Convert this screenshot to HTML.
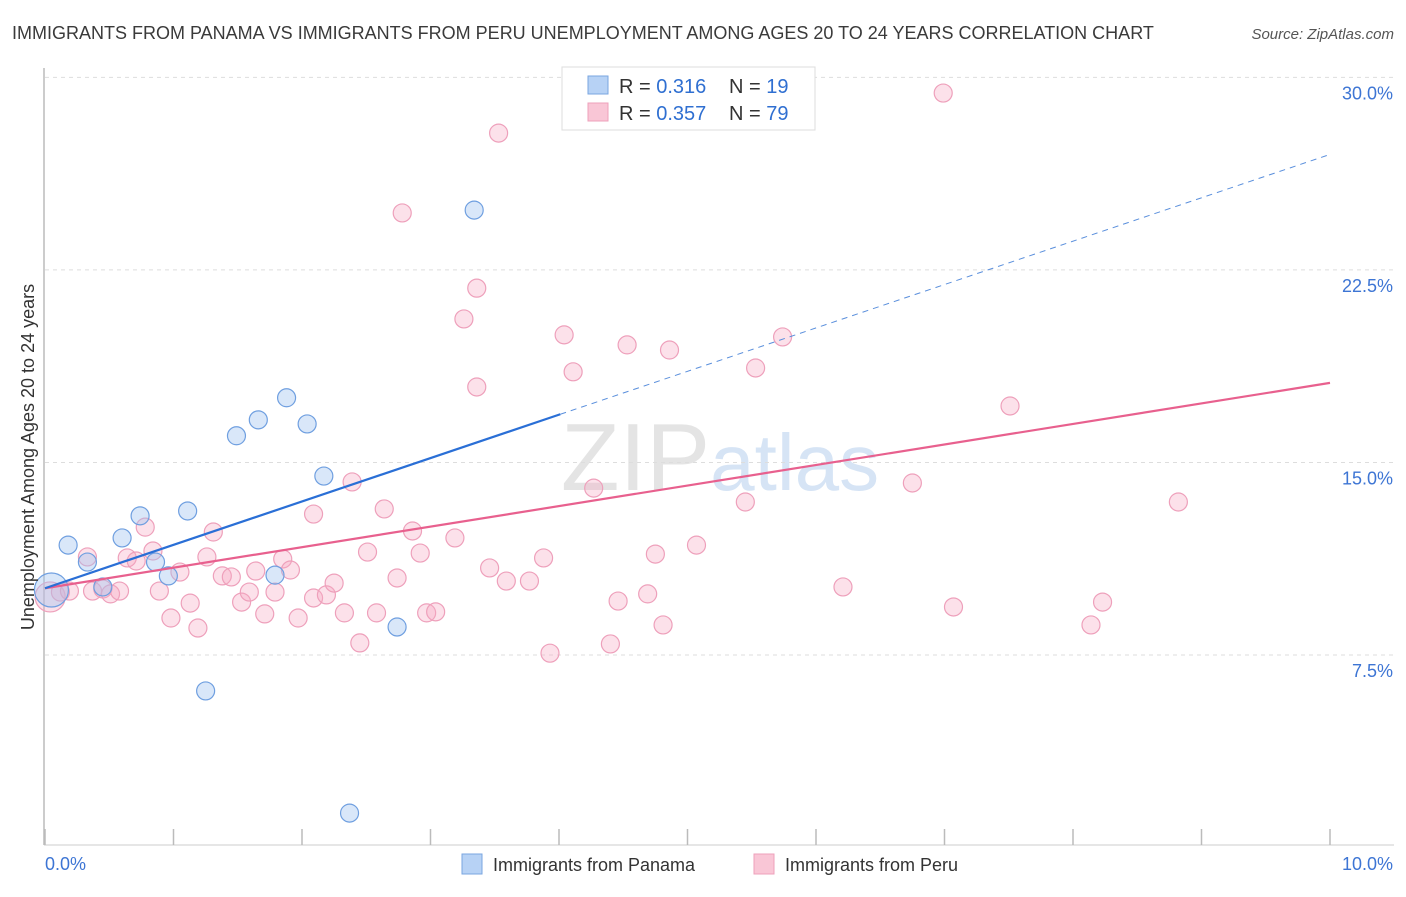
<!DOCTYPE html>
<html><head><meta charset="utf-8"><style>
body{margin:0;background:#fff;font-family:"Liberation Sans",sans-serif;}
svg text{font-family:"Liberation Sans",sans-serif;}
</style></head><body>
<svg id="chart" width="1406" height="892" xmlns="http://www.w3.org/2000/svg">
<text x="12" y="39" font-size="18" fill="#3a3a3a">IMMIGRANTS FROM PANAMA VS IMMIGRANTS FROM PERU UNEMPLOYMENT AMONG AGES 20 TO 24 YEARS CORRELATION CHART</text>
<text x="1394" y="39" font-size="15" fill="#555" text-anchor="end" font-style="italic">Source: ZipAtlas.com</text>
<text x="720" y="490" font-size="96" fill="#e4e4e4" text-anchor="middle" font-family="Liberation Serif">ZIP<tspan fill="#d6e4f5" font-family="Liberation Sans" font-size="80">atlas</tspan></text>
<g id="grid"></g>
<g id="axes"></g>
<g id="marks"></g>
<text transform="translate(34,457) rotate(-90)" font-size="18" fill="#333" text-anchor="middle">Unemployment Among Ages 20 to 24 years</text>
<g>
<rect x="562" y="67" width="253" height="63" fill="#fff" stroke="#ddd"/>
<rect x="588" y="76" width="20" height="18" fill="#b7d2f5" stroke="#7aa6e0"/>
<rect x="588" y="103" width="20" height="18" fill="#f9c6d6" stroke="#eea0bb"/>
<text x="619" y="93" font-size="20" fill="#333">R = <tspan fill="#2f6fd1">0.316</tspan></text>
<text x="729" y="93" font-size="20" fill="#333">N = <tspan fill="#2f6fd1"> 19</tspan></text>
<text x="619" y="120" font-size="20" fill="#333">R = <tspan fill="#2f6fd1">0.357</tspan></text>
<text x="729" y="120" font-size="20" fill="#333">N = <tspan fill="#2f6fd1">79</tspan></text>
</g>
<g>
<rect x="462" y="854" width="20" height="20" fill="#b7d2f5" stroke="#7aa6e0"/>
<text x="493" y="871" font-size="18" fill="#333">Immigrants from Panama</text>
<rect x="754" y="854" width="20" height="20" fill="#f9c6d6" stroke="#eea0bb"/>
<text x="785" y="871" font-size="18" fill="#333">Immigrants from Peru</text>
</g>
</svg>
<script>
const yTicks=[7.5,15,22.5,30];
const yTickLabels=["7.5%","15.0%","22.5%","30.0%"];
const xTicks=[0,1,2,3,4,5,6,7,8,9,10];
const xEndLabels=["0.0%","10.0%"];
const panamaX=[0.05,0.18,0.33,0.45,0.60,0.74,0.86,0.96,1.11,1.25,1.49,1.66,1.88,2.04,2.17,1.79,2.74,3.34,2.37];
const panamaY=[10.03,11.78,11.12,10.15,12.06,12.92,11.12,10.58,13.11,6.10,16.04,16.66,17.52,16.50,14.47,10.61,8.59,24.83,1.34];
const peruX=[0.04,0.12,0.19,0.33,0.37,0.45,0.51,0.58,0.64,0.71,0.78,0.84,0.89,0.98,1.05,1.13,1.19,1.26,1.31,1.38,1.45,1.53,1.59,1.64,1.71,1.79,1.85,1.91,1.97,2.09,2.09,2.19,2.25,2.33,2.39,2.45,2.51,2.58,2.64,2.74,2.78,2.86,2.92,2.97,3.04,3.19,3.26,3.36,3.36,3.46,3.53,3.59,3.77,3.88,3.93,4.04,4.11,4.27,4.40,4.46,4.53,4.69,4.75,4.81,4.86,5.07,5.45,5.53,5.74,5.89,6.21,6.75,6.99,7.07,7.51,8.14,8.23,8.82];
const peruY=[9.76,9.95,9.99,11.32,9.99,10.07,9.88,9.99,11.28,11.16,12.48,11.55,9.99,8.94,10.73,9.52,8.55,11.32,12.29,10.58,10.54,9.56,9.95,10.77,9.10,9.95,11.24,10.81,8.94,12.99,9.72,9.84,10.30,9.14,14.24,7.97,11.51,9.14,13.19,10.50,24.72,12.33,11.47,9.14,9.18,12.06,20.59,17.94,21.79,10.89,27.83,10.38,10.38,11.28,7.57,19.97,18.53,14.00,7.93,9.60,19.58,9.88,11.43,8.67,19.38,11.78,13.46,18.68,19.89,28.37,10.15,14.20,29.39,9.37,17.20,8.67,9.56,13.46];
const panamaBig=[0];
const peruBig=[0];
const panamaTrend=[10.1,1.69];
const peruTrend=[10.1,0.80];
const panamaSolidEnd=4.01;

const X0=45,X1=1330,XMAX=10;
const sx=v=>X0+(X1-X0)*v/XMAX;
const sy=v=>847.5-v*25.67;
const NS="http://www.w3.org/2000/svg";
function mk(tag,attrs,parent){const e=document.createElementNS(NS,tag);for(const k in attrs)e.setAttribute(k,attrs[k]);parent.appendChild(e);return e;}
const grid=document.getElementById('grid'),axes=document.getElementById('axes'),marks=document.getElementById('marks');
yTicks.forEach((t,i)=>{
 const l=mk('line',{x1:45,x2:1394,y1:sy(t),y2:sy(t),stroke:'#ddd','stroke-dasharray':'4,4'},grid);
 
 
 const tx=mk('text',{x:1393,y:sy(t)+22,'font-size':18,fill:'#3d75d4','text-anchor':'end'},axes);
 tx.textContent=yTickLabels[i];
 
 
});
const ax=mk('line',{x1:44,x2:44,y1:68,y2:845,stroke:'#bbb','stroke-width':1.5},axes);


const bx=mk('line',{x1:44,x2:1394,y1:845,y2:845,stroke:'#ccc'},axes);


xTicks.forEach(t=>{
 const l=mk('line',{x1:sx(t),x2:sx(t),y1:829,y2:845,stroke:'#bbb','stroke-width':1.5},axes);
 
 
});
const xl0=mk('text',{x:45,y:870,'font-size':18,fill:'#3d75d4'},axes);xl0.textContent=xEndLabels[0];


const xl1=mk('text',{x:1393,y:870,'font-size':18,fill:'#3d75d4','text-anchor':'end'},axes);xl1.textContent=xEndLabels[1];



peruX.forEach((x,i)=>{
 const c=mk('circle',{cx:sx(x),cy:sy(peruY[i]),r:peruBig.includes(i)?15:9,fill:'rgba(246,170,196,0.35)',stroke:'#eea0bb','stroke-width':1.2},marks);
 
 
});
panamaX.forEach((x,i)=>{
 const c=mk('circle',{cx:sx(x),cy:sy(panamaY[i]),r:panamaBig.includes(i)?17:9,fill:'rgba(160,196,240,0.4)',stroke:'#6f9fe0','stroke-width':1.2},marks);
 
 
});
const pl=mk('line',{x1:sx(0),y1:sy(peruTrend[0]),x2:sx(10),y2:sy(peruTrend[0]+peruTrend[1]*10),stroke:'#e8608e','stroke-width':2.2},marks);


const bl=mk('line',{x1:sx(0),y1:sy(panamaTrend[0]),x2:sx(panamaSolidEnd),y2:sy(panamaTrend[0]+panamaTrend[1]*panamaSolidEnd),stroke:'#2a6fd6','stroke-width':2.2},marks);


const bd=mk('line',{x1:sx(panamaSolidEnd),y1:sy(panamaTrend[0]+panamaTrend[1]*panamaSolidEnd),x2:sx(10),y2:sy(panamaTrend[0]+panamaTrend[1]*10),stroke:'#5a8fdc','stroke-width':1,'stroke-dasharray':'6,5'},marks);


</script>
</body></html>
